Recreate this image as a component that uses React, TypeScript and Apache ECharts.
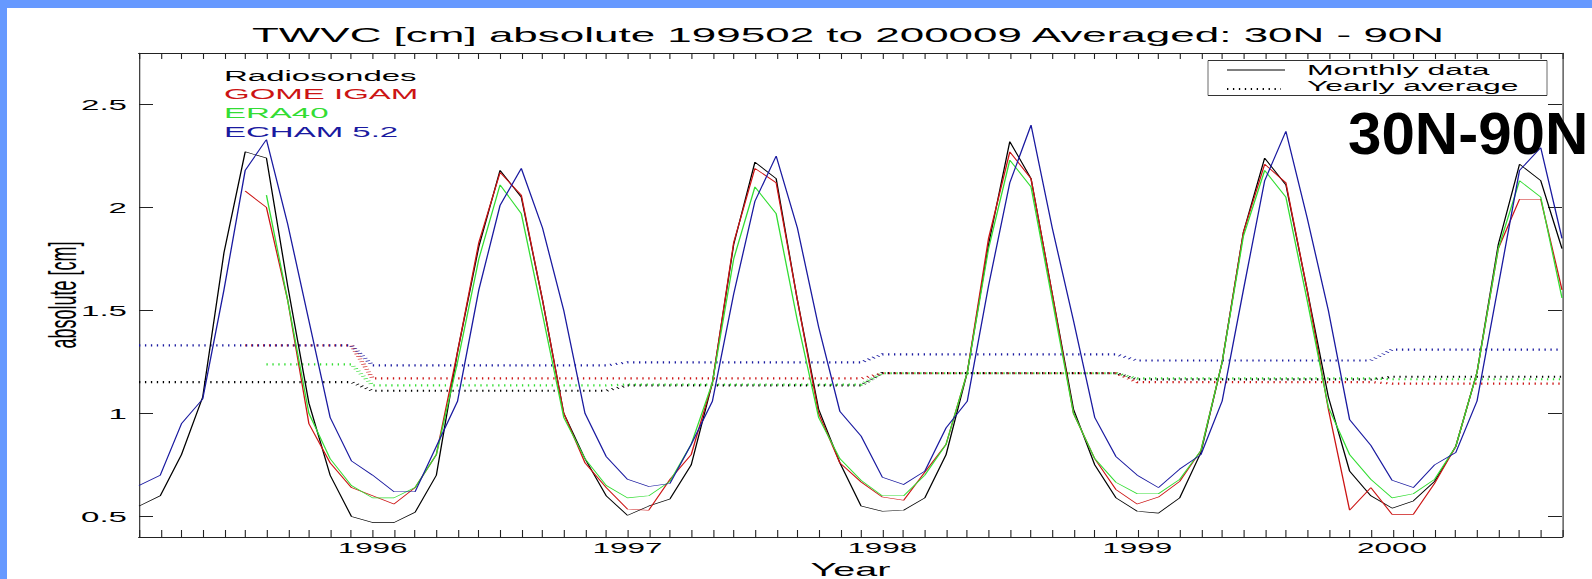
import React, { useEffect, useRef } from "react";
import * as echarts from "echarts";

// ---------------- data ----------------
// month index 0 = Feb 1995 ... 67 = Sep 2000
const yearTickLabels = ["1996", "1997", "1998", "1999", "2000"];

const radiosondes = [
  0.55, 0.6, 0.8, 1.08, 1.78, 2.27, 2.24, 1.62, 1.05, 0.7, 0.5,
  0.47, 0.47, 0.52, 0.7, 1.3, 1.81, 2.18, 2.05, 1.55, 1.0, 0.78, 0.6,
  0.505, 0.55, 0.585, 0.75, 1.15, 1.82, 2.22, 2.14, 1.55, 1.02, 0.76, 0.55,
  0.525, 0.53, 0.59, 0.8, 1.2, 1.82, 2.32, 2.14, 1.58, 1.02, 0.75, 0.59,
  0.525, 0.516, 0.59, 0.81, 1.25, 1.88, 2.24, 2.11, 1.6, 1.08, 0.72, 0.6,
  0.54, 0.575, 0.67, 0.84, 1.2, 1.82, 2.21, 2.13, 1.8,
];

const gomeIgam = [
  null, null, null, null, null, 2.08, 2.0, 1.55, 0.95, 0.76, 0.64,
  0.6, 0.56, 0.64, 0.8, 1.3, 1.83, 2.17, 2.06, 1.55, 1.0, 0.76, 0.64,
  0.535, 0.53, 0.68, 0.8, 1.15, 1.83, 2.19, 2.12, 1.55, 1.0, 0.76, 0.667,
  0.594, 0.578, 0.715, 0.85, 1.2, 1.85, 2.27, 2.14, 1.58, 1.0, 0.78, 0.63,
  0.56, 0.594, 0.67, 0.82, 1.25, 1.88, 2.21, 2.12, 1.6, 1.02, 0.53, 0.64,
  0.51, 0.51, 0.66, 0.84, 1.2, 1.8, 2.04, 2.04, 1.6,
];

const era40 = [
  null, null, null, null, null, null, 2.06, 1.55, 1.0, 0.78, 0.65,
  0.59, 0.59, 0.64, 0.8, 1.25, 1.75, 2.11, 1.97, 1.48, 0.98, 0.78, 0.65,
  0.59, 0.6, 0.67, 0.85, 1.15, 1.75, 2.1, 1.97, 1.45, 0.98, 0.78, 0.675,
  0.6, 0.6, 0.7, 0.85, 1.2, 1.8, 2.23, 2.1, 1.55, 1.0, 0.78, 0.665,
  0.61, 0.61, 0.68, 0.82, 1.25, 1.86, 2.18, 2.05, 1.55, 1.03, 0.8, 0.68,
  0.59, 0.61, 0.68, 0.84, 1.2, 1.8, 2.13, 2.05, 1.56,
];

const echam52 = [
  0.65, 0.7, 0.95, 1.07, 1.6, 2.18, 2.33, 1.92, 1.45, 0.98, 0.77,
  0.7, 0.62, 0.62, 0.84, 1.06, 1.6, 2.01, 2.19, 1.9, 1.5, 1.0, 0.79,
  0.68, 0.645, 0.66, 0.85, 1.06, 1.58, 2.03, 2.25, 1.9, 1.42, 1.01, 0.89,
  0.69, 0.655, 0.72, 0.93, 1.06, 1.62, 2.12, 2.4, 1.9, 1.45, 0.98, 0.79,
  0.7, 0.64, 0.73, 0.8, 1.06, 1.6, 2.13, 2.37, 1.95, 1.5, 0.97, 0.845,
  0.675, 0.64, 0.75, 0.81, 1.06, 1.62, 2.18, 2.29, 1.85,
];

// yearly averages for 1995 .. 2000
const avgYears = [1995, 1996, 1997, 1998, 1999, 2000];
const radiosondesYearly = [1.152, 1.11, 1.136, 1.196, 1.165, 1.178];
const gomeIgamYearly = [1.33, 1.17, 1.17, 1.195, 1.152, 1.145];
const era40Yearly = [1.238, 1.136, 1.14, 1.195, 1.17, 1.166];
const echam52Yearly = [1.33, 1.233, 1.248, 1.287, 1.257, 1.31];

const seriesNames = ["Radiosondes", "GOME IGAM", "ERA40", "ECHAM 5.2"];
const seriesColors = ["#000000", "#cc1414", "#33dd33", "#1a1aa0"];

// ---------------- layout ----------------
const S = 2.2; // horizontal stretch of the original picture
const FULL_W = 1592;
const FULL_H = 579;
const W = FULL_W / S;
const rx = (px: number) => px / S;
const FONT = "'Liberation Sans', Arial, sans-serif";

const monthlyPoints = (arr: (number | null)[]) =>
  arr.map((v, i) => (v == null ? null : [i, v])).filter((p) => p !== null);

const yearlyPoints = (monthly: (number | null)[], yearly: number[]) =>
  monthly
    .map((v, i) => {
      if (v == null) return null;
      const year = 1995 + Math.floor((i + 1) / 12);
      return [i, yearly[avgYears.indexOf(year)]];
    })
    .filter((p) => p !== null);

export default function App() {
  const ref = useRef<HTMLDivElement>(null);

  useEffect(() => {
    if (!ref.current) return;
    const chart = echarts.init(ref.current, null, {
      renderer: "svg",
      width: W,
      height: FULL_H,
    });

    const monthlyData = [radiosondes, gomeIgam, era40, echam52];
    const yearlyData = [radiosondesYearly, gomeIgamYearly, era40Yearly, echam52Yearly];

    const series: any[] = [];
    monthlyData.forEach((arr, k) => {
      series.push({
        type: "line",
        name: seriesNames[k] + " yearly",
        data: yearlyPoints(arr, yearlyData[k]),
        xAxisIndex: 0,
        yAxisIndex: 0,
        symbol: "none",
        showSymbol: false,
        silent: true,
        lineStyle: { color: seriesColors[k], width: 2.2, type: [0.6, 2.1] },
        itemStyle: { color: seriesColors[k] },
        z: 2,
      });
    });
    monthlyData.forEach((arr, k) => {
      series.push({
        type: "line",
        name: seriesNames[k],
        data: monthlyPoints(arr),
        xAxisIndex: 0,
        yAxisIndex: 0,
        symbol: "none",
        showSymbol: false,
        silent: true,
        lineStyle: { color: seriesColors[k], width: 0.6 },
        itemStyle: { color: seriesColors[k] },
        z: 3,
      });
    });

    const xLabel = (v: number) => {
      const m = Math.round(v);
      if ((m + 1) % 12 !== 0) return "";
      return yearTickLabels[(m + 1) / 12 - 1] || "";
    };

    const axisColor = "#222";
    const vW = 1 / S; // width of vertical strokes, so they look 1px after stretch

    const legendNameY = [76, 94, 113, 132];

    const graphic: any[] = [];
    seriesNames.forEach((n, k) => {
      graphic.push({
        type: "text",
        x: rx(224),
        y: legendNameY[k],
        style: {
          text: n,
          fill: seriesColors[k],
          fontSize: 15,
          fontFamily: FONT,
          verticalAlign: "middle",
          textVerticalAlign: "middle",
        },
      });
    });
    // legend box
    const bx1 = rx(1208), bx2 = rx(1547), by1 = 60.5, by2 = 95.5;
    graphic.push(
      { type: "line", shape: { x1: bx1, y1: by1, x2: bx2, y2: by1 }, style: { stroke: "#333", lineWidth: 1 } },
      { type: "line", shape: { x1: bx1, y1: by2, x2: bx2, y2: by2 }, style: { stroke: "#333", lineWidth: 1 } },
      { type: "line", shape: { x1: bx1, y1: by1, x2: bx1, y2: by2 }, style: { stroke: "#333", lineWidth: vW } },
      { type: "line", shape: { x1: bx2, y1: by1, x2: bx2, y2: by2 }, style: { stroke: "#333", lineWidth: vW } },
      { type: "line", shape: { x1: rx(1227), y1: 70, x2: rx(1285), y2: 70 }, style: { stroke: "#000", lineWidth: 1 } },
      { type: "line", shape: { x1: rx(1227), y1: 89, x2: rx(1281), y2: 89 }, style: { stroke: "#000", lineWidth: 2, lineDash: [0.6, 2.1] } },
      {
        type: "text",
        x: rx(1307),
        y: 70,
        style: { text: "Monthly data", fill: "#000", fontSize: 14.5, fontFamily: FONT, verticalAlign: "middle", textVerticalAlign: "middle" },
      },
      {
        type: "text",
        x: rx(1307),
        y: 86,
        style: { text: "Yearly average", fill: "#000", fontSize: 14.5, fontFamily: FONT, verticalAlign: "middle", textVerticalAlign: "middle" },
      },
      {
        type: "text",
        x: rx(1348),
        y: 134,
        scaleX: 1 / S,
        z: 100,
        style: {
          text: "30N-90N",
          fill: "#000",
          fontSize: 60,
          fontWeight: "bold",
          fontFamily: FONT,
          verticalAlign: "middle",
          textVerticalAlign: "middle",
        },
      }
    );

    const option: any = {
      animation: false,
      backgroundColor: "transparent",
      textStyle: { fontFamily: FONT },
      title: {
        text: "TWVC [cm] absolute 199502 to 200009 Averaged: 30N - 90N",
        left: rx(848),
        top: 25,
        padding: 0,
        textAlign: "center",
        textStyle: { fontSize: 20, fontWeight: "normal", color: "#000", fontFamily: FONT },
      },
      grid: {
        left: rx(139),
        right: W - rx(1562),
        top: 53,
        bottom: FULL_H - 537,
        containLabel: false,
        outerBoundsMode: "none",
        show: false,
      },
      xAxis: [
        {
          type: "value",
          min: 0,
          max: 67,
          interval: 1,
          position: "bottom",
          axisLine: { show: true, onZero: false, lineStyle: { color: axisColor, width: 1 } },
          axisTick: { show: true, inside: true, length: 7, lineStyle: { color: axisColor, width: vW * 1.1 } },
          axisLabel: { show: true, formatter: xLabel, color: "#000", fontSize: 14.3, margin: 4, fontFamily: FONT },
          splitLine: { show: false },
          name: "Year",
          nameLocation: "middle",
          nameGap: 24,
          nameMoveOverlap: false,
          nameTextStyle: { fontSize: 18, color: "#000", fontFamily: FONT },
        },
        {
          type: "value",
          min: 0,
          max: 67,
          interval: 1,
          position: "top",
          axisLine: { show: true, onZero: false, lineStyle: { color: axisColor, width: 1 } },
          axisTick: { show: true, inside: true, length: 6, lineStyle: { color: axisColor, width: vW * 1.1 } },
          axisLabel: { show: false },
          splitLine: { show: false },
        },
      ],
      yAxis: [
        {
          type: "value",
          min: 0.4,
          max: 2.75,
          splitNumber: 5,
          minInterval: 0.5,
          maxInterval: 0.5,
          position: "left",
          axisLine: { show: true, onZero: false, lineStyle: { color: axisColor, width: vW * 1.1 } },
          axisTick: { show: true, inside: true, length: 14 / S, lineStyle: { color: axisColor, width: 1 } },
          axisLabel: {
            show: true,
            color: "#000",
            fontSize: 15,
            margin: 5.5,
            fontFamily: FONT,
            showMinLabel: false,
            showMaxLabel: false,
          },
          splitLine: { show: false },
          name: "absolute [cm]",
          nameLocation: "middle",
          nameRotate: 90,
          nameGap: 29,
          nameMoveOverlap: false,
          nameTextStyle: { fontSize: 18, lineHeight: 12, color: "#000", fontFamily: FONT },
        },
        {
          type: "value",
          min: 0.4,
          max: 2.75,
          splitNumber: 5,
          minInterval: 0.5,
          maxInterval: 0.5,
          position: "right",
          axisLine: { show: true, onZero: false, lineStyle: { color: axisColor, width: vW * 1.1 } },
          axisTick: { show: true, inside: true, length: 14 / S, lineStyle: { color: axisColor, width: 1 } },
          axisLabel: { show: false },
          splitLine: { show: false },
        },
      ],
      series,
      graphic,
    };

    chart.setOption(option);
    return () => chart.dispose();
  }, []);

  return (
    <div
      style={{
        position: "absolute",
        left: 0,
        top: 0,
        width: FULL_W,
        height: FULL_H,
        overflow: "hidden",
        background: "#6699ff",
      }}
    >
      <div
        style={{
          position: "absolute",
          left: 7,
          top: 8,
          right: 0,
          bottom: 0,
          background: "#ffffff",
        }}
      />
      <div
        ref={ref}
        style={{
          position: "absolute",
          left: 0,
          top: 0,
          width: W,
          height: FULL_H,
          transform: `scaleX(${S})`,
          transformOrigin: "0 0",
        }}
      />
    </div>
  );
}
